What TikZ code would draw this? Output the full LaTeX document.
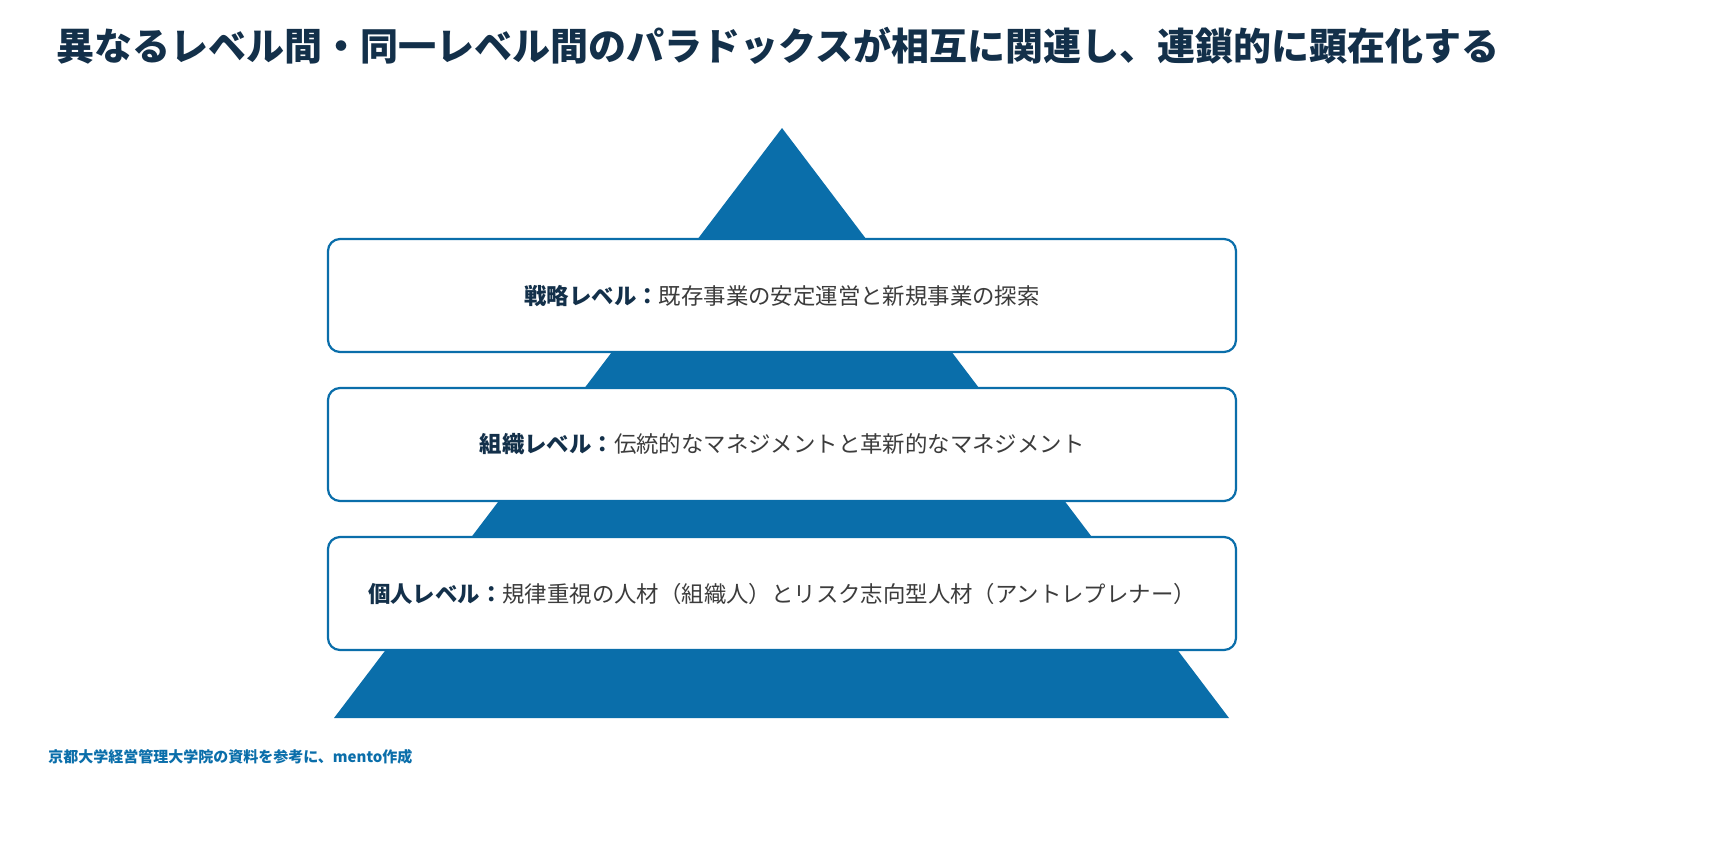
\documentclass[tikz,border=0pt]{standalone}
\usepackage{fontspec}
\setmainfont{Noto Sans CJK JP}
\definecolor{pyrblue}{HTML}{0A6EAA}
\definecolor{navy}{HTML}{13304A}
\definecolor{bodygray}{HTML}{3C3C3C}
\tikzset{
  level/.style={draw=pyrblue, line width=1.1pt, fill=white, rounded corners=6pt,
    minimum width=454pt, minimum height=56.5pt, inner sep=0pt},
  lvtext/.style={font=\fontsize{11.2pt}{14pt}\selectfont, text=bodygray}
}
\begin{document}
\begin{tikzpicture}[x=0.5pt,y=-0.5pt]
    % Canvas
    \fill[white] (0,0) rectangle (1722,858);
    \useasboundingbox (0,0) rectangle (1722,858);

    % Title
    \node[font=\fontsize{19pt}{23pt}\selectfont\bfseries, text=navy] (title) at (778,46)
      {異なるレベル間・同一レベル間のパラドックスが相互に関連し、連鎖的に顕在化する};

    % Pyramid
    \coordinate (apex) at (782,128);
    \coordinate (baseL) at (334,718);
    \coordinate (baseR) at (1229,718);
    \fill[pyrblue] (apex) -- (baseR) -- (baseL) -- cycle;

    % Level boxes
    \node[level] (strategy) at (782,295.5) {};
    \node[level] (organization) at (782,444.5) {};
    \node[level] (individual) at (782,593.5) {};

    \node[lvtext] (stext) at (strategy) {\textbf{\color{navy}戦略レベル：}既存事業の安定運営と新規事業の探索};
    \node[lvtext] (otext) at (organization) {\textbf{\color{navy}組織レベル：}伝統的なマネジメントと革新的なマネジメント};
    \node[lvtext] (itext) at (individual) {\textbf{\color{navy}個人レベル：}規律重視の人材（組織人）とリスク志向型人材（アントレプレナー）};

    % Source note
    \node[anchor=west, inner sep=0pt, font=\fontsize{7.5pt}{9pt}\selectfont\bfseries, text=pyrblue] (source) at (48,757)
      {京都大学経営管理大学院の資料を参考に、mento作成};
\end{tikzpicture}
\end{document}
